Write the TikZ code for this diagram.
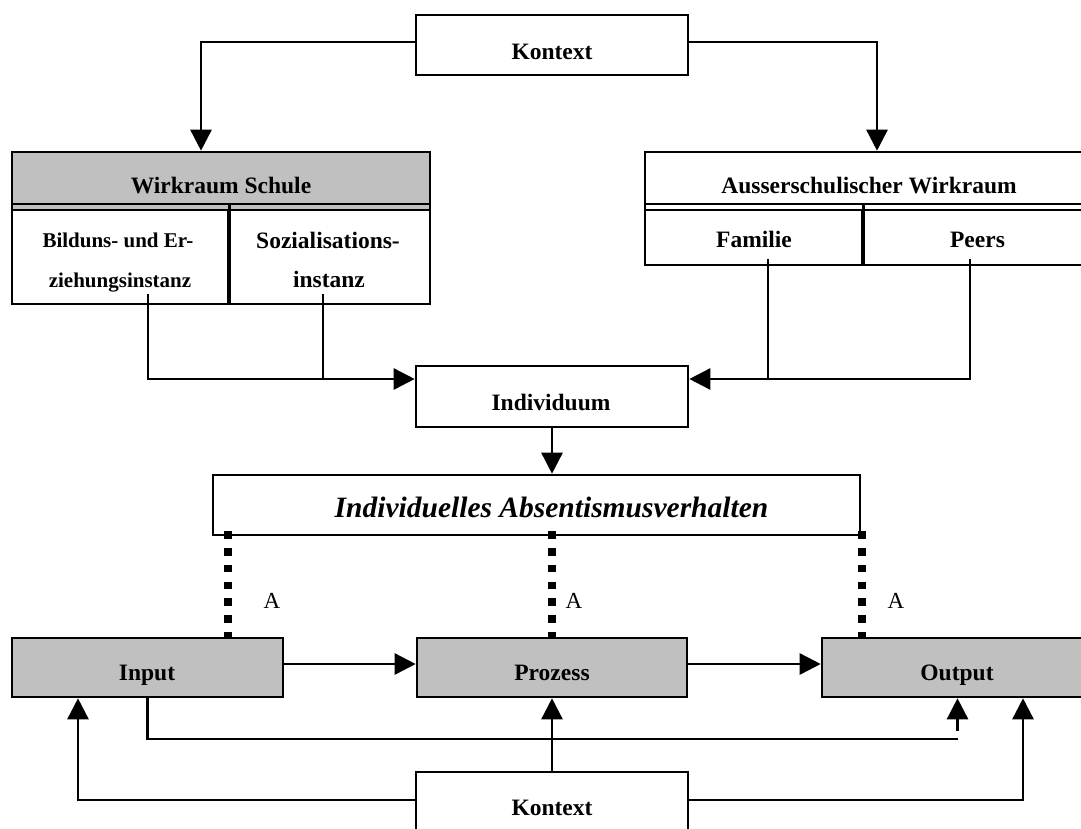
\documentclass[tikz,border=0pt]{standalone}
\usepackage{fontspec}
\setmainfont{Liberation Serif}
\usetikzlibrary{arrows.meta}
\definecolor{boxgray}{RGB}{192,192,192}
\begin{document}
\begin{tikzpicture}[x=1pt,y=-1pt,
  line width=2.6pt,
  box/.style={draw, rectangle, inner sep=0pt},
  graybox/.style={box, fill=boxgray},
  arr/.style={-{Triangle[length=21pt,width=21pt]}},
  dotline/.style={line width=7.5pt, dash pattern=on 7.5pt off 9.25pt},
  lab/.style={inner sep=0pt, anchor=base, font=\bfseries\fontsize{23.5}{28}\selectfont},
  sublab/.style={inner sep=0pt, anchor=base, font=\bfseries\fontsize{21}{25}\selectfont},
  itlab/.style={inner sep=0pt, anchor=base, font=\bfseries\itshape\fontsize{29.5}{34}\selectfont},
  alab/.style={inner sep=0pt, anchor=base, font=\fontsize{23}{27}\selectfont}]
\useasboundingbox (0,0) rectangle (1081,828);

% --- top context ---
\node[box, minimum width=272pt, minimum height=60pt] (ktop) at (552,45) {};
\node[lab] (ktoplab) at (552,59) {Kontext};

% --- school sphere ---
\fill[boxgray] (12,152) rectangle (430,210);
\node[box, minimum width=418pt, minimum height=152pt] (schule) at (221,228) {};
\node[box, minimum width=418pt, minimum height=52pt] (schulehead) at (221,178) {};
\node[box, minimum width=216pt, minimum height=94pt] (bildung) at (120,257) {};
\node[box, minimum width=202pt, minimum height=94pt] (sozial) at (329,257) {};
\draw (bildung.north east |- schulehead.south) -- (bildung.south east);
\node[lab] (schulelab) at (221,193) {Wirkraum Schule};
\node[sublab] (bildlab1) at (118,247) {Bilduns- und Er-};
\node[sublab] (bildlab2) at (120,287) {ziehungsinstanz};
\node[lab] (sozlab1) at (328,248) {Sozialisations-};
\node[lab] (sozlab2) at (329,287) {instanz};

% --- out-of-school sphere ---
\node[box, minimum width=448pt, minimum height=113pt] (ausser) at (869,208.5) {};
\node[box, minimum width=448pt, minimum height=52pt] (ausserhead) at (869,178) {};
\node[box, minimum width=217pt, minimum height=55pt] (familie) at (753.5,237.5) {};
\node[box, minimum width=231pt, minimum height=55pt] (peers) at (977.5,237.5) {};
\draw (familie.north east |- ausserhead.south) -- (familie.south east);
\node[lab] (ausserlab) at (869,193) {Ausserschulischer Wirkraum};
\node[lab] (famlab) at (754,247) {Familie};
\node[lab] (peerlab) at (977.5,247) {Peers};

% --- individual ---
\node[box, minimum width=272pt, minimum height=61pt] (indiv) at (552,396.5) {};
\node[lab] (indivlab) at (551,410) {Individuum};
\node[box, minimum width=647pt, minimum height=60pt] (absent) at (536.5,505) {};
\node[itlab] (absentlab) at (551.5,517) {Individuelles Absentismusverhalten};

% --- input / process / output ---
\node[graybox, minimum width=271pt, minimum height=59pt] (input) at (147.5,667.5) {};
\node[graybox, minimum width=270pt, minimum height=59pt] (prozess) at (552,667.5) {};
\node[graybox, minimum width=271pt, minimum height=59pt] (output) at (957.5,667.5) {};
\node[lab] (inputlab) at (147,680) {Input};
\node[lab] (prozesslab) at (552,680) {Prozess};
\node[lab] (outputlab) at (957,680) {Output};

% --- bottom context ---
\node[box, minimum width=272pt, minimum height=60pt] (kbot) at (552,802) {};
\node[lab] (kbotlab) at (552,815) {Kontext};

% --- context to both spheres ---
\draw[arr] ([yshift=3pt]ktop.west) -| ([xshift=-20pt]schule.north);
\draw[arr] ([yshift=3pt]ktop.east) -| ([xshift=8pt]ausser.north);

% --- spheres to the individual ---
\coordinate (jl) at ([yshift=17.5pt]indiv.west);
\coordinate (jr) at ([yshift=17.5pt]indiv.east);
\draw[arr] ([xshift=28pt,yshift=11pt]bildung.south) |- (jl);
\coordinate (s1) at ([xshift=-6pt,yshift=11pt]sozial.south);
\draw (s1) -- (s1 |- jl);
\draw[arr] ([xshift=-7.5pt,yshift=7pt]peers.south) |- (jr);
\coordinate (f1) at ([xshift=14.5pt,yshift=7pt]familie.south);
\draw (f1) -- (f1 |- jr);

\draw[arr] (indiv.south) -- (indiv.south |- absent.north);

% --- dotted links ---
\coordinate (dtop) at ([yshift=5pt]absent.south);
\draw[dotline] ([xshift=80.5pt]input.north |- dtop) -- ([xshift=80.5pt]input.north);
\draw[dotline] (prozess.north |- dtop) -- (prozess.north);
\draw[dotline] ([xshift=-95.5pt]output.north |- dtop) -- ([xshift=-95.5pt]output.north);
\node[alab] (a1) at (272,608) {A};
\node[alab] (a2) at (574,608) {A};
\node[alab] (a3) at (896,608) {A};

% --- flow ---
\draw[arr] ([yshift=3.5pt]input.east) -- ([yshift=3.5pt]prozess.west);
\draw[arr] ([yshift=3.5pt]prozess.east) -- ([yshift=3.5pt]output.west);
\coordinate (loopend) at (output.south |- 0,739);
\draw (input.south) |- (loopend);
\draw[arr] ([yshift=8pt]loopend) -- (output.south);

% --- bottom context to the three stages ---
\draw[arr] ([yshift=2pt]kbot.west) -| ([xshift=-69.5pt]input.south);
\draw[arr] (kbot.north) -- (prozess.south);
\draw[arr] ([yshift=2pt]kbot.east) -| ([xshift=65.5pt]output.south);
\end{tikzpicture}
\end{document}
